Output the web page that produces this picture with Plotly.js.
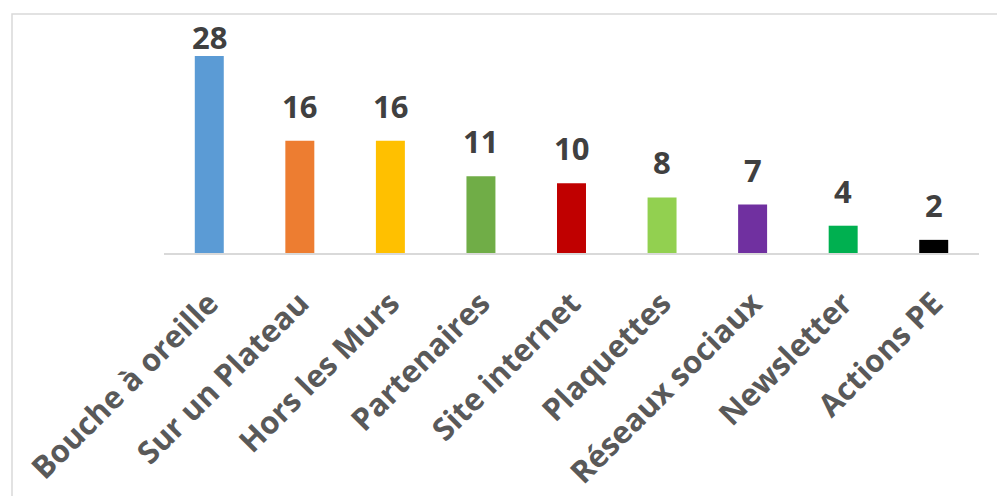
<!DOCTYPE html>
<html>
<head>
<meta charset="utf-8">
<script src="https://cdn.plot.ly/plotly-3.0.1.min.js"></script>
<style>html,body{margin:0;padding:0;background:#fff;}#chart{width:997px;height:496px;}</style>
</head>
<body>
<div id="chart"></div>
<script>
const categories = ["Bouche à oreille", "Sur un Plateau", "Hors les Murs", "Partenaires", "Site internet", "Plaquettes", "Réseaux sociaux", "Newsletter", "Actions PE"];
const values = [28, 16, 16, 11, 10, 8, 7, 4, 2];
const barColors = ["#5B9BD5", "#ED7D31", "#FFC000", "#70AD47", "#C00000", "#92D050", "#7030A0", "#00B050", "#000000"];

const FONT = "'Open Sans', 'DejaVu Sans', sans-serif";
const W = 997, H = 496;
const M = {l: 164, r: 18, t: 56, b: 242};
const yMax = 28;
const ppu = (H - M.t - M.b) / yMax;

const trace = {
  type: "bar",
  x: categories,
  y: values,
  marker: {color: barColors, line: {width: 0}},
  hoverinfo: "x+y"
};

// data labels: ~21px above the bar, pushed down when they would leave the chart top
const annotations = categories.map((c, i) => {
  const barTop = M.t + (yMax - values[i]) * ppu;
  const gap = Math.min(21, barTop - 28 - 23);
  return {
    x: c, y: values[i], xref: "x", yref: "y",
    text: "<b>" + values[i] + "</b>",
    showarrow: false, yanchor: "bottom", yshift: gap - 9,
    font: {family: FONT, size: 31, color: "#404040"}
  };
});

const layout = {
  width: W, height: H,
  margin: {l: M.l, r: M.r, t: M.t, b: M.b, pad: 0},
  paper_bgcolor: "#ffffff", plot_bgcolor: "#ffffff",
  showlegend: false,
  bargap: 0.68,
  xaxis: {
    type: "category",
    tickangle: -45,
    showgrid: false, zeroline: false,
    showline: false, ticks: "",
    ticklabelstandoff: 24,
    tickfont: {family: FONT, size: 31, color: "#595959", weight: "bold"}
  },
  yaxis: {
    range: [0, yMax], visible: false, fixedrange: true
  },
  shapes: [
    {type: "line", xref: "paper", yref: "paper", x0: 0, x1: 1, y0: 0, y1: 0,
     line: {color: "#d9d9d9", width: 2}},
    {type: "rect", xref: "paper", yref: "paper",
     x0: -0.1865, x1: 1.03, y0: -1.25, y1: 1.2121,
     line: {color: "#d9d9d9", width: 1.5}, fillcolor: "rgba(0,0,0,0)", layer: "below"}
  ],
  annotations: annotations
};

Plotly.newPlot("chart", [trace], layout, {displayModeBar: false, staticPlot: true});
</script>
</body>
</html>
